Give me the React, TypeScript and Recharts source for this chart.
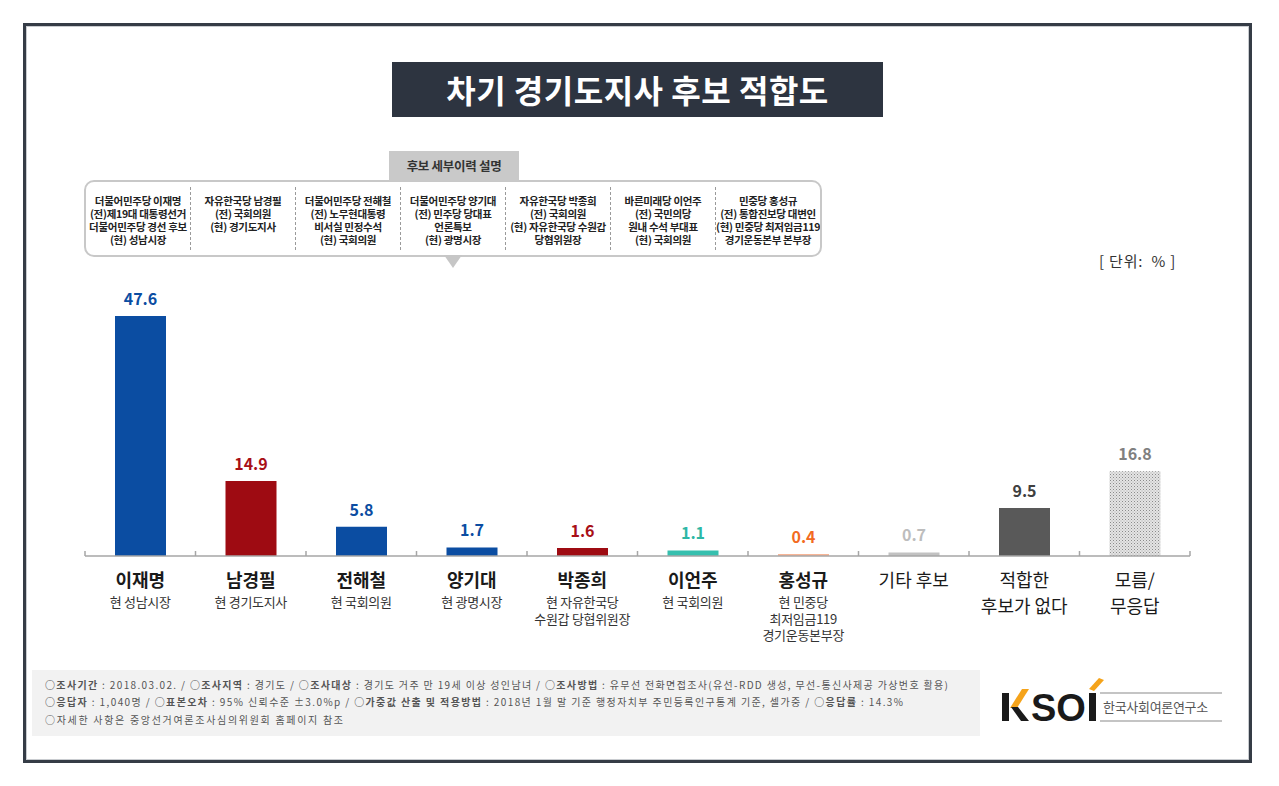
import { Bar, BarChart, Cell, LabelList, XAxis, YAxis } from "recharts";

const categories = [
  "이재명",
  "남경필",
  "전해철",
  "양기대",
  "박종희",
  "이언주",
  "홍성규",
  "기타 후보",
  "적합한\n후보가 없다",
  "모름/\n무응답",
];

const roles: string[][] = [
  ["현 성남시장"],
  ["현 경기도지사"],
  ["현 국회의원"],
  ["현 광명시장"],
  ["현 자유한국당", "수원갑 당협위원장"],
  ["현 국회의원"],
  ["현 민중당", "최저임금119", "경기운동본부장"],
  [],
  [],
  [],
];

const values = [47.6, 14.9, 5.8, 1.7, 1.6, 1.1, 0.4, 0.7, 9.5, 16.8];

const careers: string[][] = [
  ["더불어민주당 이재명", "(전)제19대 대통령선거", "더불어민주당 경선 후보", "(현) 성남시장"],
  ["자유한국당 남경필", "(전) 국회의원", "(현) 경기도지사"],
  ["더불어민주당 전해철", "(전) 노무현대통령", "비서실 민정수석", "(현) 국회의원"],
  ["더불어민주당 양기대", "(전) 민주당 당대표", "언론특보", "(현) 광명시장"],
  ["자유한국당 박종희", "(전) 국회의원", "(현) 자유한국당 수원갑", "당협위원장"],
  ["바른미래당 이언주", "(전) 국민의당", "원내 수석 부대표", "(현) 국회의원"],
  ["민중당 홍성규", "(전) 통합진보당 대변인", "(현) 민중당 최저임금119", "경기운동본부 본부장"],
];

const barColors = [
  "#0b4da2", "#9e0b12", "#0b4da2", "#0b4da2", "#9e0b12",
  "#36bfae", "#f7b596", "#c2c2c2", "#595959", "url(#dotFill)",
];
const labelColors = [
  "#0b4da2", "#a80f17", "#0b4da2", "#0b4da2", "#a80f17",
  "#2db7a5", "#f26a21", "#bdbdbd", "#404040", "#808080",
];

const FONT = "'Noto Sans CJK KR', 'Noto Sans', sans-serif";
const PLOT_LEFT = 85;
const PLOT_RIGHT = 1190;
const BAND = (PLOT_RIGHT - PLOT_LEFT) / categories.length;

const chartData = categories.map((c, i) => ({ name: c, value: values[i] }));

function CategoryTick(props: any) {
  const { x, y, payload } = props;
  const idx = categories.indexOf(payload.value);
  const lines = String(payload.value).split("\n");
  const sub = roles[idx] ?? [];
  const isCandidate = sub.length > 0;
  return (
    <g>
      <line x1={x - BAND / 2} x2={x - BAND / 2} y1={y - 5} y2={y} stroke="#a6a6a6" strokeWidth={1.5} />
      {idx === categories.length - 1 && (
        <line x1={x + BAND / 2} x2={x + BAND / 2} y1={y - 5} y2={y} stroke="#a6a6a6" strokeWidth={1.5} />
      )}
      {lines.map((l, k) => (
        <text
          key={l}
          x={x}
          y={y + 31 + k * 26}
          textAnchor="middle"
          fontFamily={FONT}
          fontSize={18}
          fontWeight={isCandidate ? 700 : 400}
          fill="#1a1a1a"
        >
          {l}
        </text>
      ))}
      {sub.map((s, k) => (
        <text
          key={s}
          x={x}
          y={y + 51 + k * 16.5}
          textAnchor="middle"
          fontFamily={FONT}
          fontSize={13}
          letterSpacing={-0.3}
          fill="#333"
        >
          {s}
        </text>
      ))}
    </g>
  );
}

function ValueLabel(props: any) {
  const { x, y, width, value, index } = props;
  const i = typeof index === "number" ? index : values.indexOf(Number(value));
  return (
    <text
      x={x + width / 2}
      y={y - 11}
      textAnchor="middle"
      fontFamily={FONT}
      fontSize={16}
      fontWeight={700}
      fill={labelColors[i]}
    >
      {value}
    </text>
  );
}

function Logo() {
  return (
    <svg width={240} height={60} style={{ position: "absolute", left: 995, top: 672 }}>
      <rect x={7} y={21} width={7} height={28} fill="#1a1a1a" />
      <polygon points="15,36 27,17 34,17 22,36" fill="#f5a31a" />
      <polygon points="16,35 23,35 34,49 26,49" fill="#1a1a1a" />
      <text x={36} y={49} fontFamily="'Liberation Sans', sans-serif" fontWeight={700} fontSize={38} fill="#1a1a1a">
        SO
      </text>
      <rect x={94} y={21} width={7} height={28} fill="#1a1a1a" />
      <polygon points="94,17 104,6 109,8 99,19" fill="#f5a31a" />
      <line x1={105} x2={227} y1={21} y2={21} stroke="#c4c4c4" strokeWidth={2} />
      <line x1={105} x2={227} y1={49} y2={49} stroke="#c4c4c4" strokeWidth={2} />
      <text x={108} y={40} fontFamily={FONT} fontSize={13} fill="#555" letterSpacing={-0.3}>
        한국사회여론연구소
      </text>
    </svg>
  );
}

function Footer() {
  const base = { fontFamily: FONT, fontSize: 10, fill: "#555" } as const;
  return (
    <svg width={948} height={66} style={{ position: "absolute", left: 32, top: 670, background: "#f2f2f2" }}>
      <text x={13} y={19} {...base} textLength={903} lengthAdjust="spacing">
        <tspan fontWeight={700}>○조사기간</tspan> : 2018.03.02. / <tspan fontWeight={700}>○조사지역</tspan> : 경기도 /{" "}
        <tspan fontWeight={700}>○조사대상</tspan> : 경기도 거주 만 19세 이상 성인남녀 /{" "}
        <tspan fontWeight={700}>○조사방법</tspan> : 유무선 전화면접조사(유선-RDD 생성, 무선-통신사제공 가상번호 활용)
      </text>
      <text x={13} y={36} {...base} textLength={858} lengthAdjust="spacing">
        <tspan fontWeight={700}>○응답자</tspan> : 1,040명 / <tspan fontWeight={700}>○표본오차</tspan> : 95% 신뢰수준 ±3.0%p /{" "}
        <tspan fontWeight={700}>○가중값 산출 및 적용방법</tspan> : 2018년 1월 말 기준 행정자치부 주민등록인구통계 기준, 셀가중 /{" "}
        <tspan fontWeight={700}>○응답률</tspan> : 14.3%
      </text>
      <text x={13} y={54} {...base} textLength={298} lengthAdjust="spacing">
        ○자세한 사항은 중앙선거여론조사심의위원회 홈페이지 참조
      </text>
    </svg>
  );
}

function CareerBox() {
  return (
    <>
      <div
        style={{
          position: "absolute",
          left: 84,
          top: 180,
          width: 738,
          height: 77,
          boxSizing: "border-box",
          border: "2px solid #c8c8c8",
          borderRadius: 10,
          background: "#fff",
          display: "flex",
        }}
      >
        {careers.map((lines, i) => (
          <div
            key={i}
            style={{
              flex: 1,
              margin: "5px 0",
              paddingTop: 7,
              borderLeft: i === 0 ? "none" : "1px dashed #9a9a9a",
              textAlign: "center",
              fontFamily: FONT,
              fontSize: 10.5,
              fontWeight: 700,
              lineHeight: "13px",
              letterSpacing: -0.3,
              color: "#222",
              whiteSpace: "nowrap",
              overflow: "hidden",
            }}
          >
            {lines.map((l) => (
              <div key={l}>{l}</div>
            ))}
          </div>
        ))}
      </div>
      <svg width={30} height={20} style={{ position: "absolute", left: 439, top: 255 }}>
        <polygon points="5,0 23,0 14,13" fill="#c6c6c6" />
      </svg>
      <div
        style={{
          position: "absolute",
          left: 389,
          top: 151,
          width: 130,
          height: 30,
          background: "#c9c9c9",
          color: "#333",
          fontFamily: FONT,
          fontSize: 12.5,
          fontWeight: 700,
          lineHeight: "30px",
          textAlign: "center",
          letterSpacing: -0.3,
        }}
      >
        후보 세부이력 설명
      </div>
    </>
  );
}

export default function App() {
  return (
    <div style={{ position: "absolute", left: 0, top: 0, width: 1279, height: 786, background: "#fff", overflow: "hidden" }}>
      <div
        style={{
          position: "absolute",
          left: 23,
          top: 23,
          width: 1229,
          height: 740,
          boxSizing: "border-box",
          border: "3px solid #353c46",
          boxShadow: "inset 0 0 0 1px #c9ccd0",
        }}
      />
      <div
        style={{
          position: "absolute",
          left: 392,
          top: 62,
          width: 491,
          height: 55,
          background: "#2d3440",
          color: "#fff",
          fontFamily: FONT,
          fontSize: 32,
          fontWeight: 700,
          lineHeight: "55px",
          textAlign: "center",
          letterSpacing: 0.5,
        }}
      >
        차기 경기도지사 후보 적합도
      </div>
      <BarChart
        width={1279}
        height={786}
        data={chartData}
        margin={{ top: 304, right: 1279 - PLOT_RIGHT, left: PLOT_LEFT, bottom: 140 }}
        style={{ position: "absolute", left: 0, top: 0 }}
      >
        <defs>
          <pattern id="dotFill" width={3} height={3} patternUnits="userSpaceOnUse">
            <rect width={3} height={3} fill="#e4e4e4" />
            <rect width={1} height={1} fill="#8a8a8a" />
            <rect x={1.5} y={1.5} width={1} height={1} fill="#a8a8a8" />
          </pattern>
        </defs>
        <XAxis
          dataKey="name"
          height={90}
          interval={0}
          tickSize={0}
          tickMargin={0}
          tickLine={false}
          axisLine={{ stroke: "#a6a6a6", strokeWidth: 1.5 }}
          tick={<CategoryTick />}
        />
        <YAxis hide domain={[0, 50]} />
        <Bar dataKey="value" barSize={51} isAnimationActive={false}>
          {chartData.map((d, i) => (
            <Cell key={d.name} fill={barColors[i]} />
          ))}
          <LabelList dataKey="value" content={<ValueLabel />} />
        </Bar>
      </BarChart>
      <CareerBox />
      <div
        style={{
          position: "absolute",
          left: 1099,
          top: 250,
          fontFamily: FONT,
          fontSize: 15,
          color: "#333",
          whiteSpace: "pre",
          letterSpacing: 0.8,
        }}
      >
        [ 단위:  % ]
      </div>
      <Footer />
      <Logo />
    </div>
  );
}
